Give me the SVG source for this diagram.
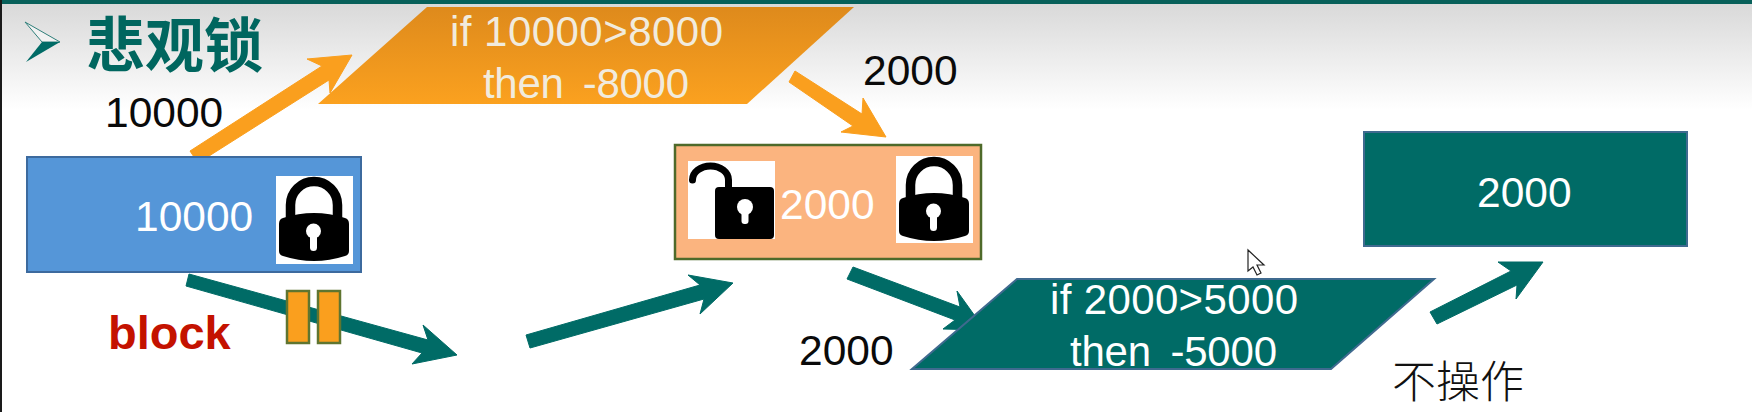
<svg xmlns="http://www.w3.org/2000/svg" width="1752" height="412" viewBox="0 0 1752 412">
<style>
text{font-family:"Liberation Sans",Arial,"Noto Sans CJK SC",sans-serif;font-size:42.5px}
.k{fill:#0a0a0a}
.w{fill:#fff}
.c{fill:#f1ebdd}
.or{fill:#fa9f1e;stroke:#fa9f1e;stroke-width:1}
.te{fill:#006b66}
.ar{stroke:#006b66;stroke-width:1}
.st{stroke:#3f6a8f;stroke-width:2}
.cond{font-size:42px}
.gap{word-spacing:8px}
</style>
<defs>
<linearGradient id="bg" x1="0" y1="0" x2="0" y2="1"><stop offset="0" stop-color="#d9d9d9"/><stop offset="1" stop-color="#fff"/></linearGradient>
<linearGradient id="og" x1="0" y1="0" x2="0" y2="1"><stop offset="0" stop-color="#de8a1c"/><stop offset="1" stop-color="#fba11f"/></linearGradient>
<symbol id="lock" viewBox="0 0 70 84" overflow="visible">
<path d="M11.5 44V28A23.5 23.5 0 0 1 58.5 28V44" fill="none" stroke="#000" stroke-width="9.5"/>
<path d="M4 41Q35 31 66 41Q70 42 70 47V74Q70 78 66 79Q35 89 4 79Q0 78 0 74V47Q0 42 4 41Z" fill="#000"/>
<circle cx="34.5" cy="54" r="7.5" fill="#fff"/><rect x="31" y="54" width="7" height="20" rx="3.5" fill="#fff"/>
</symbol>
</defs>
<rect width="1752" height="412" fill="#fff"/>
<rect y="4" width="1752" height="106" fill="url(#bg)"/>
<rect width="1752" height="4" fill="#07605a"/>
<rect width="2" height="412" fill="#1a1a1a"/>
<g id="title">
<path d="M25 22L60 42L42 42Z" fill="#f2f2f2" stroke="#2f7f7a" stroke-width="1"/>
<path d="M26 62L42 42L60 42Z" fill="#006b66"/>
<text x="86" y="67" style="font-family:'Noto Sans CJK SC',sans-serif;font-size:59px;font-weight:700" fill="#00665f">悲观锁</text>
</g>
<g id="connectors">
<polygon class="or" points="190,151 322,66 307,59 352,55 330,93 329,80 198,163"/>
<polygon class="or" points="795,71 862,114 863,98 886,137 841,132 853,126 789,82"/>
<polygon class="te ar" points="189,274 428,340 423,325 457,355 412,364 422,353 186,286"/>
<polygon class="te ar" points="526,335 700,285 688,275 733,283 700,314 704,299 530,348"/>
<polygon class="te ar" points="853,267 960,307 957,291 985,330 943,329 955,320 847,279"/>
<polygon class="te ar" points="1430,312 1511,271 1498,262 1543,262 1516,299 1517,285 1437,324"/>
</g>
<g id="label-10000-top"><text class="k" x="105" y="127">10000</text></g>
<g id="label-2000-top"><text class="k" x="863" y="85">2000</text></g>
<g id="label-2000-bottom"><text class="k" x="799" y="365">2000</text></g>
<g id="label-block"><text x="108" y="349" style="font-size:47px;font-weight:700" fill="#c41200">block</text></g>
<g id="label-no-op"><text x="1392" y="398" style="font-family:'Noto Sans CJK SC',sans-serif;font-size:44px;font-weight:300" fill="#111">不操作</text></g>
<g id="check-8000">
<polygon points="427,7 854,7 747,104 318,104" fill="url(#og)"/>
<text class="c cond" x="450" y="46" textLength="273">if 10000&gt;8000</text>
<text class="c cond gap" x="483" y="98" textLength="206">then -8000</text>
</g>
<g id="check-5000">
<polygon class="te st" points="1017,279 1434,279 1331,369 912,369"/>
<text class="w cond" x="1050" y="314" textLength="248">if 2000&gt;5000</text>
<text class="w cond gap" x="1070" y="366" textLength="207">then -5000</text>
</g>
<g id="balance-10000">
<rect x="27" y="157" width="334" height="115" fill="#5596d8" stroke="#3c6a9e" stroke-width="2"/>
<text class="w" x="135" y="231">10000</text>
<rect x="276" y="176" width="77" height="88" fill="#fff"/>
<use href="#lock" x="279" y="177" width="70" height="84"/>
</g>
<g id="balance-2000-locked">
<rect x="675" y="145" width="306" height="114" fill="#fbb47f" stroke="#4e6a2a" stroke-width="2.5"/>
<rect x="688" y="161" width="87" height="78" fill="#fff"/>
<path d="M692.5 180A18 14 0 0 1 728.5 180V190" fill="none" stroke="#000" stroke-width="7" stroke-linecap="round"/>
<rect x="715" y="187" width="59" height="52" rx="4" fill="#000"/>
<circle cx="745" cy="207" r="8" fill="#fff"/><rect x="741.5" y="207" width="7" height="17" rx="3" fill="#fff"/>
<text class="w" x="780" y="219">2000</text>
<rect x="896" y="156" width="77" height="87" fill="#fff"/>
<use href="#lock" x="899" y="157" width="70" height="84"/>
</g>
<g id="balance-2000-final">
<rect x="1364" y="132" width="323" height="114" fill="#006b66" stroke="#3f6a8f" stroke-width="2"/>
<text class="w" x="1477" y="207">2000</text>
</g>
<g id="blocks">
<rect x="287" y="291" width="22" height="52" fill="#fa9f1e" stroke="#5f7530" stroke-width="2.5"/>
<rect x="318" y="291" width="22" height="52" fill="#fa9f1e" stroke="#5f7530" stroke-width="2.5"/>
</g>
<g id="cursor"><path d="M1248 250V271L1253 267L1257 275L1261 273L1257 265L1264 265Z" fill="#fff" stroke="#222" stroke-width="1.2"/></g>
</svg>
